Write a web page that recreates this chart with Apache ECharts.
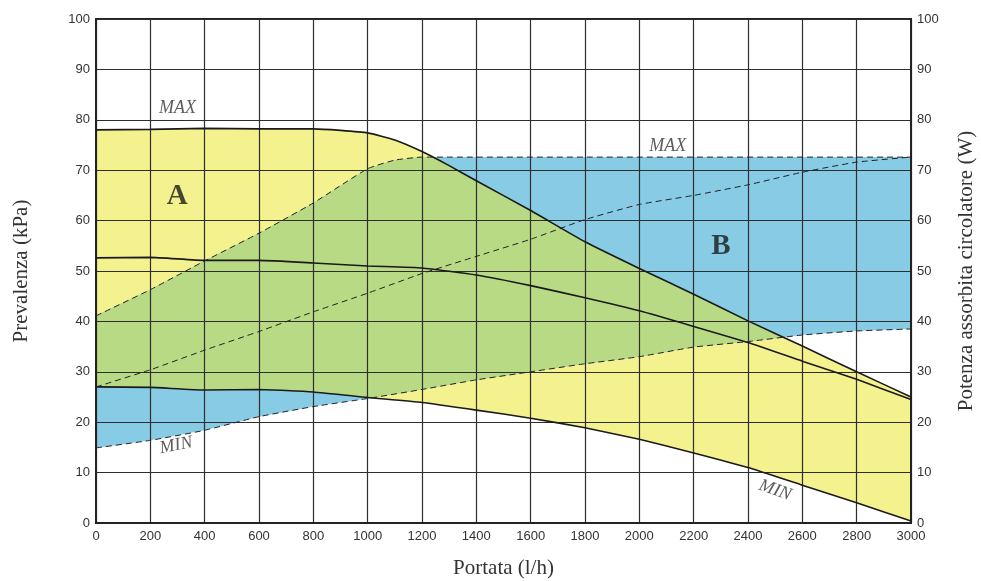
<!DOCTYPE html>
<html>
<head>
<meta charset="utf-8">
<script src="https://cdn.jsdelivr.net/npm/echarts@6/dist/echarts.min.js"></script>
<style>
html,body{margin:0;padding:0;background:#fff;}
#chart{width:981px;height:581px;}
</style>
</head>
<body>
<div id="chart"></div>
<script>
// ---- Data ----
const flowTicks = [0,200,400,600,800,1000,1200,1400,1600,1800,2000,2200,2400,2600,2800,3000];

// Head (kPa) curves
const headMaxX = [0,200,400,600,800,900,1000,1100,1200,1300,1400,1600,1800,2000,2200,2400,2600,2800,3000];
const headMaxY = [78.0,78.1,78.3,78.2,78.2,77.9,77.4,76.0,73.7,70.9,67.9,62.0,55.8,50.5,45.4,40.1,35.1,30.0,25.0];

const headMidX = flowTicks;
const headMidY = [52.6,52.7,52.1,52.1,51.6,51.0,50.6,49.2,47.1,44.7,42.1,39.0,35.8,32.1,28.5,24.5];

const headMinX = flowTicks;
const headMinY = [27.0,26.9,26.4,26.5,26.0,24.9,23.9,22.4,20.8,18.9,16.6,13.9,11.0,7.5,4.0,0.4];

// Power (W) curves
const powerMaxX = [0,200,400,600,800,1000,1100,1200,1300,3000];
const powerMaxY = [41.1,46.3,52.0,57.5,63.5,70.3,72.0,72.6,72.6,72.6];

const powerMidX = flowTicks;
const powerMidY = [27.0,30.4,34.3,38.0,41.9,45.6,49.5,52.9,56.3,60.2,63.2,65.0,67.1,69.6,71.6,72.6];

const powerMinX = flowTicks;
const powerMinY = [14.9,16.4,18.4,21.1,23.1,24.7,26.5,28.4,30.0,31.6,33.0,34.9,36.0,37.3,38.1,38.5];

// Annotations
const annotX = [300, 2105, 299, 2300, 295, 2500];
const annotY = [82.2, 74.8, 64.7, 54.8, 15.4, 6.5];
const annotText = ['MAX','MAX','A','B','MIN','MIN'];
const annotRot = [0, 0, 0, 0, 11, -19];
const annotKind = ['i','i','b','b','i','i'];

// ---- helpers ----
function zip(xs, ys){ return xs.map((x,i)=>[x, ys[i]]); }
function interp(xs, ys, x){
  if (x <= xs[0]) return ys[0];
  for (let i=1;i<xs.length;i++){
    if (x <= xs[i]){
      const t = (x - xs[i-1])/(xs[i]-xs[i-1]);
      return ys[i-1] + t*(ys[i]-ys[i-1]);
    }
  }
  return ys[ys.length-1];
}
function bandPoints(upX, upY, loX, loY){
  const pts = zip(upX, upY);
  const lo = zip(loX, loY).reverse();
  return pts.concat(lo);
}
function greenPoints(){
  const up = [], lo = [];
  for (let x=0; x<=3000; x+=5){
    const l = Math.max(interp(headMinX, headMinY, x), interp(powerMinX, powerMinY, x));
    const h = Math.min(interp(headMaxX, headMaxY, x), interp(powerMaxX, powerMaxY, x));
    if (h >= l){ up.push([x,h]); lo.push([x,l]); }
  }
  return up.concat(lo.reverse());
}

const yellowPoly = bandPoints(headMaxX, headMaxY, headMinX, headMinY);
const bluePoly = bandPoints(powerMaxX, powerMaxY, powerMinX, powerMinY);
const greenPoly = greenPoints();

function polySeries(name, pts, color){
  return {
    name: name, type: 'custom', z: 1, silent: true,
    data: [[0,0]],
    renderItem: function(params, api){
      return {
        type: 'polygon',
        shape: { points: pts.map(p => api.coord(p)) },
        style: { fill: color, stroke: null }
      };
    }
  };
}

const serif = '"Liberation Serif", "DejaVu Serif", serif';
const sans = '"Liberation Sans", Arial, sans-serif';

function lineSeries(name, xs, ys, dashed, yIdx){
  return {
    name: name, type: 'line', z: 6, yAxisIndex: yIdx, silent: true,
    data: zip(xs, ys), symbol: 'none', smooth: 0.15,
    lineStyle: dashed
      ? { color: '#222', width: 1, type: [6,4] }
      : { color: '#1a1a1a', width: 1.6 }
  };
}

const chart = echarts.init(document.getElementById('chart'), null, {renderer:'canvas'});

const axisLabelStyle = { color: '#333', fontFamily: sans, fontSize: 13, formatter: v => String(v) };

chart.setOption({
  animation: false,
  backgroundColor: '#fff',
  grid: { left: 96, right: 70, top: 19, bottom: 58, outerBoundsMode: 'none', containLabel: false,
          show: true, borderColor: '#222', borderWidth: 2, backgroundColor: 'transparent' },
  xAxis: {
    type: 'value', min: 0, max: 3000, interval: 200, z: 5,
    name: 'Portata (l/h)', nameLocation: 'middle', nameGap: 35,
    nameTextStyle: { fontFamily: serif, fontSize: 21, color: '#333' },
    axisLine: { show: true, onZero: false, lineStyle: { color: '#222', width: 2 } },
    axisTick: { show: false },
    axisLabel: Object.assign({ margin: 7 }, axisLabelStyle),
    splitLine: { show: true, lineStyle: { color: '#2e2e2e', width: 1.2 } }
  },
  yAxis: [
    {
      type: 'value', min: 0, max: 100, interval: 10, position: 'left', z: 5,
      name: 'Prevalenza (kPa)', nameLocation: 'middle', nameGap: 64, nameRotate: 90,
      nameTextStyle: { fontFamily: serif, fontSize: 21, color: '#333' },
      axisLine: { show: true, lineStyle: { color: '#222', width: 2 } },
      axisTick: { show: false },
      axisLabel: Object.assign({ margin: 6 }, axisLabelStyle),
      splitLine: { show: true, lineStyle: { color: '#2e2e2e', width: 1.2 } }
    },
    {
      type: 'value', min: 0, max: 100, interval: 10, position: 'right', z: 5,
      name: 'Potenza assorbita circolatore (W)', nameLocation: 'middle', nameGap: 45, nameRotate: 90,
      nameTextStyle: { fontFamily: serif, fontSize: 21, color: '#333' },
      axisLine: { show: true, lineStyle: { color: '#222', width: 2 } },
      axisTick: { show: false },
      axisLabel: Object.assign({ margin: 6 }, axisLabelStyle),
      splitLine: { show: false }
    }
  ],
  series: [
    polySeries('A', yellowPoly, '#f4f18f'),
    polySeries('B', bluePoly, '#88cbe5'),
    polySeries('AB', greenPoly, '#b8da85'),
    lineSeries('Prevalenza MAX', headMaxX, headMaxY, false, 0),
    lineSeries('Prevalenza media', headMidX, headMidY, false, 0),
    lineSeries('Prevalenza MIN', headMinX, headMinY, false, 0),
    lineSeries('Potenza MAX', powerMaxX, powerMaxY, true, 1),
    lineSeries('Potenza media', powerMidX, powerMidY, true, 1),
    lineSeries('Potenza MIN', powerMinX, powerMinY, true, 1),
    {
      name: 'labels', type: 'scatter', z: 8, silent: true, symbolSize: 0,
      data: annotX.map((x,i)=>({
        value: [x, annotY[i]],
        label: {
          show: true, position: 'inside', formatter: annotText[i], rotate: annotRot[i],
          fontFamily: serif,
          fontStyle: annotKind[i]==='i' ? 'italic' : 'normal',
          fontWeight: annotKind[i]==='b' ? 'bold' : 'normal',
          fontSize: annotKind[i]==='b' ? 29 : 18,
          color: annotKind[i]==='b' ? '#1a1a1a' : '#333'
        }
      }))
    }
  ]
});
</script>
</body>
</html>
